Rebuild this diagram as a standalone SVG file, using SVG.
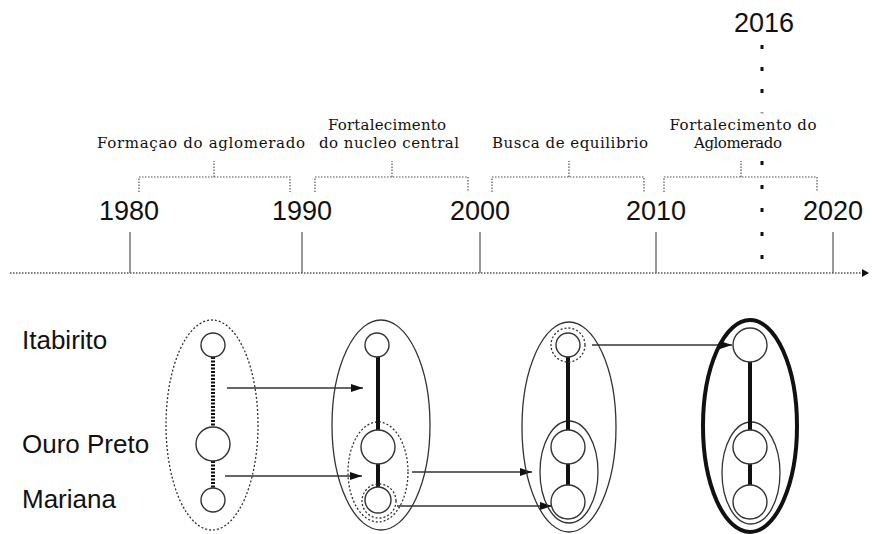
<svg xmlns="http://www.w3.org/2000/svg" width="872" height="534" viewBox="0 0 872 534">
<defs>
<style>
.yr{font-family:"Liberation Sans",Arial,sans-serif;font-size:27px;fill:#111;text-anchor:middle}
.lab{font-family:"Liberation Sans",Arial,sans-serif;font-size:26px;fill:#111}
.per{font-family:"DejaVu Serif","Liberation Serif",serif;font-size:15px;fill:#111;text-anchor:middle}
.br{fill:none;stroke:#555;stroke-width:1.2;stroke-dasharray:1.5 1.5}
.tick{stroke:#555;stroke-width:1.2}
.node{fill:#fff;stroke:#333;stroke-width:1.4}
.ring{fill:none;stroke:#333;stroke-width:1.3;stroke-dasharray:2 2}
.ell{fill:none;stroke:#333;stroke-width:1.3}
.dell{fill:none;stroke:#333;stroke-width:1.3;stroke-dasharray:2 2}
.edge{stroke:#111;stroke-width:4}
.dedge{stroke:#111;stroke-width:4;stroke-dasharray:2 1.5}
.arr{stroke:#333;stroke-width:1.4;fill:none;marker-end:url(#ah)}
.dot{fill:#111}
</style>
<marker id="ah" viewBox="0 0 12 8" refX="12" refY="4" markerWidth="12" markerHeight="8" markerUnits="userSpaceOnUse" orient="auto">
<path d="M0,0 L12,4 L0,8 Z" fill="#111"/>
</marker>
</defs>
<rect width="872" height="534" fill="#fff"/>

<g id="timeline">
<line x1="10" y1="273" x2="862" y2="273" stroke="#555" stroke-width="1.3" stroke-dasharray="1.5 1.5"/>
<path d="M862,269 L869,273 L862,277 Z" fill="#111"/>
<line class="tick" x1="130" y1="232" x2="130" y2="273"/>
<line class="tick" x1="302" y1="232" x2="302" y2="273"/>
<line class="tick" x1="480" y1="232" x2="480" y2="273"/>
<line class="tick" x1="656" y1="232" x2="656" y2="273"/>
<line class="tick" x1="833" y1="232" x2="833" y2="273"/>
<text class="yr" x="129" y="220">1980</text>
<text class="yr" x="302" y="220">1990</text>
<text class="yr" x="480" y="220">2000</text>
<text class="yr" x="656" y="220">2010</text>
<text class="yr" x="833" y="220">2020</text>
<text class="yr" x="764" y="32">2016</text>
<rect class="dot" x="760.5" y="45" width="3" height="4"/>
<rect class="dot" x="760.5" y="67" width="3" height="4"/>
<rect class="dot" x="760.5" y="89" width="3" height="4"/>
<rect x="760.5" y="112" width="3" height="1.5" fill="#999"/>
<rect class="dot" x="760.5" y="161" width="3" height="4"/>
<rect class="dot" x="760.5" y="185" width="3" height="4"/>
<rect class="dot" x="760.5" y="208" width="3" height="4"/>
<rect class="dot" x="760.5" y="232" width="3" height="4"/>
<rect class="dot" x="760.5" y="255" width="3" height="4"/>
</g>

<g id="periods">
<path class="br" d="M139,192 V177 H290 V192 M214,177 V161"/>
<text class="per" x="201" y="148" textLength="208" lengthAdjust="spacing">Formaçao do aglomerado</text>
<path class="br" d="M315,192 V177 H468 V192 M392,177 V161"/>
<text class="per" x="387" y="130" textLength="118" lengthAdjust="spacing">Fortalecimento</text>
<text class="per" x="389" y="148" textLength="140" lengthAdjust="spacing">do nucleo central</text>
<path class="br" d="M492,192 V177 H644 V192 M569,177 V161"/>
<text class="per" x="570" y="148" textLength="156" lengthAdjust="spacing">Busca de equilibrio</text>
<path class="br" d="M664,192 V177 H817 V192 M741,177 V161"/>
<text class="per" x="743" y="130" textLength="147" lengthAdjust="spacing">Fortalecimento do</text>
<text class="per" x="738" y="148" textLength="88" lengthAdjust="spacing">Aglomerado</text>
</g>

<g id="labels">
<text class="lab" x="22" y="349">Itabirito</text>
<text class="lab" x="22" y="453">Ouro Preto</text>
<text class="lab" x="22" y="508">Mariana</text>
</g>

<g id="connectors">
<line class="arr" x1="227" y1="388" x2="363" y2="388"/>
<line class="arr" x1="225" y1="476" x2="362" y2="476"/>
<line class="arr" x1="412" y1="472" x2="532" y2="472"/>
<line class="arr" x1="397" y1="506" x2="552" y2="506"/>
<line class="arr" x1="592" y1="345" x2="732" y2="345"/>
</g>

<g id="group1980">
<ellipse class="dell" cx="212" cy="425" rx="46" ry="105"/>
<line class="dedge" x1="213" y1="357" x2="213" y2="428"/>
<line class="dedge" x1="213" y1="461" x2="213" y2="488"/>
<circle class="node" cx="213" cy="345" r="12"/>
<circle class="node" cx="213" cy="444" r="17"/>
<circle class="node" cx="213" cy="500" r="12"/>
</g>

<g id="group1990">
<ellipse class="ell" cx="381" cy="425" rx="49" ry="105"/>
<ellipse class="dell" cx="378" cy="472" rx="30" ry="50"/>
<line class="edge" x1="378" y1="357" x2="378" y2="430"/>
<line class="edge" x1="378" y1="464" x2="378" y2="487"/>
<circle class="node" cx="377" cy="345" r="12"/>
<circle class="node" cx="378" cy="447" r="17"/>
<circle class="ring" cx="379" cy="501" r="17"/>
<circle class="node" cx="378" cy="500" r="13"/>
</g>

<g id="group2000">
<ellipse class="ell" cx="569" cy="427" rx="47" ry="105"/>
<ellipse class="ell" cx="569" cy="472" rx="29" ry="51"/>
<line class="edge" x1="568" y1="357" x2="568" y2="430"/>
<line class="edge" x1="568" y1="464" x2="568" y2="485"/>
<circle class="ring" cx="568" cy="345" r="17"/>
<circle class="node" cx="568" cy="345" r="12"/>
<circle class="node" cx="568" cy="447" r="17"/>
<circle class="node" cx="568" cy="502" r="17"/>
</g>

<g id="group2016">
<ellipse fill="none" stroke="#111" stroke-width="4" cx="750" cy="426" rx="47" ry="106"/>
<ellipse class="ell" cx="751" cy="473" rx="29" ry="51"/>
<line class="edge" x1="750" y1="362" x2="750" y2="430"/>
<line class="edge" x1="750" y1="464" x2="750" y2="485"/>
<circle class="node" cx="750" cy="345" r="17"/>
<circle class="node" cx="750" cy="447" r="17"/>
<circle class="node" cx="750" cy="502" r="17"/>
</g>
</svg>
